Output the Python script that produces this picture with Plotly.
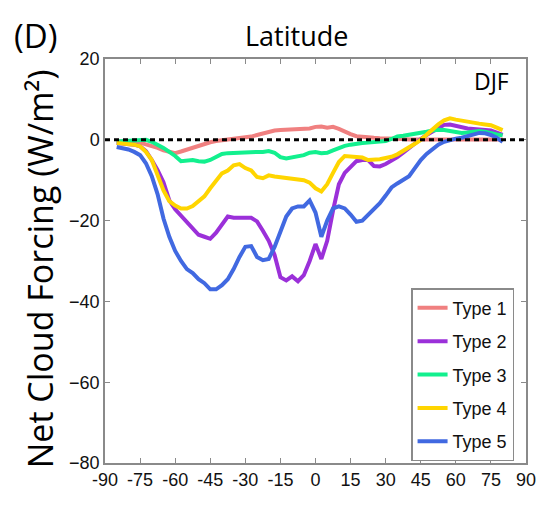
import plotly.graph_objects as go

# ---- data ----
lat = [-85 + 2.5 * i for i in range(67)]  # -85 ... 80

type1 = [-0.4, -0.4, -0.4, -0.5, -0.7, -1.1, -1.5, -2.0, -2.6, -3.0, -3.3, -2.9, -2.4, -1.9,
         -1.4, -0.9, -0.6, -0.3, -0.1, 0.1, 0.2, 0.3, 0.5, 0.8, 1.2, 1.6, 2.0, 2.3, 2.4, 2.5,
         2.5, 2.6, 2.6, 2.8, 3.2, 3.3, 3.0, 3.2, 2.7, 2.0, 1.4, 0.9, 0.7, 0.6, 0.5, 0.4, 0.4,
         0.4, 0.3, 0.2, 0.1, 0.1, 0.0, 0.0, 0.1, 0.1, 0.1, 0.1, 0.1, 0.1, 0.1, 0.1, 0.1, 0.1,
         0.1, 0.1, 0.1]
type2 = [-0.8, -0.9, -1.0, -1.2, -1.6, -2.8, -5.0, -7.5, -10.5, -15.0, -17.2, -18.8, -20.5,
         -22.0, -23.5, -24.0, -24.5, -23.0, -20.8, -19.0, -19.3, -19.2, -19.3, -19.3, -20.2,
         -22.5, -25.0, -28.5, -34.0, -34.8, -33.8, -35.0, -33.5, -30.0, -25.8, -29.5, -25.0,
         -17.5, -11.0, -8.2, -6.8, -5.3, -5.0, -5.0, -6.5, -6.6, -6.0, -5.2, -4.3, -3.2, -2.0,
         -1.0, 0.2, 1.2, 2.0, 3.0, 3.7, 3.8, 3.4, 3.0, 2.8, 2.7, 2.5, 2.4, 2.3, 1.8, 1.2]
type3 = [-0.4, -0.3, -0.2, 0.0, 0.1, 0.0, -0.5, -1.2, -2.0, -3.0, -4.0, -5.3, -5.2, -5.0,
         -5.3, -5.4, -5.0, -4.3, -3.5, -3.3, -3.2, -3.3, -3.2, -3.1, -3.0, -3.0, -2.8, -3.2,
         -4.3, -4.6, -4.4, -4.2, -3.8, -3.2, -3.0, -3.3, -3.2, -2.6, -2.0, -1.5, -1.2, -0.9,
         -0.8, -0.7, -0.6, -0.5, -0.3, 0.2, 0.8, 1.0, 1.2, 1.4, 1.6, 2.0, 2.3, 2.5, 2.4, 2.2,
         1.8, 1.7, 1.8, 2.0, 2.2, 2.0, 1.6, 1.3, 1.1]
type4 = [-0.8, -0.9, -1.0, -1.2, -1.6, -3.0, -5.0, -8.5, -12.5, -15.2, -16.3, -17.0, -17.0,
         -16.4, -15.2, -14.0, -12.0, -10.0, -8.3, -7.6, -6.3, -6.0, -7.0, -7.6, -9.2, -9.5,
         -8.8, -9.1, -9.3, -9.4, -9.7, -9.7, -10.0, -10.6, -12.0, -12.8, -11.0, -8.2, -5.5,
         -4.0, -4.1, -4.2, -4.4, -5.0, -5.0, -4.8, -4.5, -4.2, -3.6, -2.8, -2.0, -1.0, 0.0,
         1.3, 2.6, 3.8, 4.8, 5.3, 5.0, 4.7, 4.5, 4.2, 4.0, 3.8, 3.6, 3.0, 2.4]
type5 = [-1.8, -2.0, -2.4, -3.0, -3.8, -5.8, -9.0, -13.5, -19.5, -24.0, -27.5, -30.0, -32.0,
         -33.0, -34.5, -35.5, -37.0, -37.0, -36.0, -34.5, -32.0, -29.0, -26.5, -26.3, -29.0,
         -29.8, -29.5, -26.5, -23.0, -19.0, -17.0, -16.5, -16.5, -15.0, -18.0, -24.0, -20.0,
         -17.0, -16.5, -17.0, -18.5, -20.3, -20.0, -18.5, -17.2, -15.7, -13.8, -11.8, -10.8,
         -9.8, -9.0, -7.0, -5.0, -3.5, -2.2, -1.2, -0.5, 0.0, 0.3, 0.5, 0.9, 1.4, 1.7, 1.6,
         1.2, 0.5, -0.5]

series_names = ["Type 1", "Type 2", "Type 3", "Type 4", "Type 5"]
series_values = [type1, type2, type3, type4, type5]
series_colors = ["#F08080", "#9B30D9", "#12F08E", "#FFD500", "#4169E1"]

x_ticks = list(range(-90, 91, 15))
x_ticktext = [str(v) for v in x_ticks]
y_ticks = list(range(-80, 21, 20))
y_ticktext = [str(v).replace("-", "\u2212") for v in y_ticks]

tick_font = dict(family="Liberation Sans, Arial, sans-serif", size=18, color="#111111")
title_font = "Open Sans, Liberation Sans, sans-serif"

fig = go.Figure()
for name, vals, col in zip(series_names, series_values, series_colors):
    fig.add_trace(go.Scatter(x=lat, y=vals, mode="lines", name=name, legendgroup=name,
                             line=dict(color=col, width=4)))

fig.add_hline(y=0, line=dict(color="black", width=3, dash="5px,4px"), layer="above")

axis_common = dict(showgrid=False, zeroline=False, showline=True, linecolor="#8a8a8a",
                   linewidth=1.5, mirror="ticks", ticks="inside", ticklen=5,
                   tickcolor="#8a8a8a", tickwidth=1, tickfont=tick_font)

fig.update_layout(
    width=553, height=507,
    margin=dict(l=105, r=27, t=59, b=44),
    paper_bgcolor="white", plot_bgcolor="white",
    xaxis=dict(range=[-90, 90], tickvals=x_ticks, ticktext=x_ticktext, **axis_common),
    yaxis=dict(range=[-80, 20], tickvals=y_ticks, ticktext=y_ticktext, **axis_common),
    legend=dict(x=0.727, y=0.433, xanchor="left", yanchor="top",
                bordercolor="#8a8a8a", borderwidth=1.5, bgcolor="white",
                font=tick_font, itemwidth=30, tracegroupgap=7),
    showlegend=True,
    annotations=[
        dict(text="Net Cloud Forcing (W/m\u00b2)", xref="paper", yref="paper",
             x=-0.1544, y=0.482, xanchor="center", yanchor="middle", textangle=-90,
             showarrow=False, font=dict(family=title_font, size=34, color="black")),
        dict(text="(D)", xref="paper", yref="paper", x=-0.164, y=1.057,
             xanchor="center", yanchor="middle", showarrow=False,
             font=dict(family=title_font, size=33, color="black")),
        dict(text="Latitude", xref="paper", yref="paper", x=0.456, y=1.059,
             xanchor="center", yanchor="middle", showarrow=False,
             font=dict(family=title_font, size=27, color="black")),
        dict(text="DJF", xref="paper", yref="paper", x=0.917, y=0.9455,
             xanchor="center", yanchor="middle", showarrow=False,
             font=dict(family=title_font, size=23, color="black")),
    ],
)

fig.write_html("out.html")
